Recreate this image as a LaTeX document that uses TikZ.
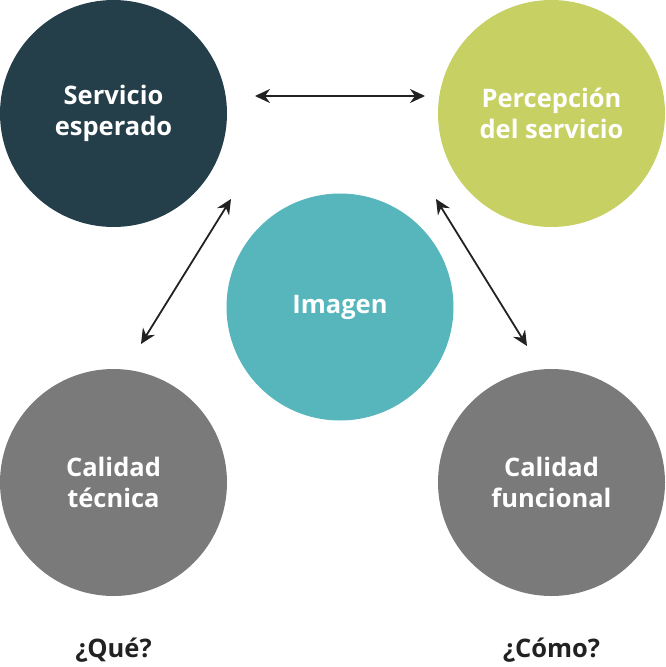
\documentclass[tikz,border=0pt]{standalone}
\usepackage{fontspec}
\setmainfont{Open Sans}
\usetikzlibrary{arrows.meta}
\definecolor{cdark}{HTML}{253F4A}
\definecolor{cgreen}{HTML}{C6D063}
\definecolor{cteal}{HTML}{56B6BC}
\definecolor{cgray}{HTML}{7A7A7A}
\definecolor{ctext}{HTML}{222222}
\tikzset{
  circ/.style={circle, minimum size=227pt, inner sep=0pt, draw=none, text=white,
    font=\bfseries\fontsize{25.5}{30.5}\selectfont, align=center},
  lbl/.style={text=ctext, font=\bfseries\fontsize{25.5}{30}\selectfont},
  arr/.style={line width=1.8pt, draw=ctext, {Stealth[length=15pt,width=14pt,inset=5pt]}-{Stealth[length=15pt,width=14pt,inset=5pt]}}
}
\begin{document}
\begin{tikzpicture}[x=1pt,y=-1pt]
\useasboundingbox (0,0) rectangle (665,667);
\node[circ, fill=cdark] (se) at (113.5,113.5) {Servicio\\esperado};
\node[circ, fill=cgreen] (ps) at (551.5,113.5) {Percepción\\del servicio};
\node[circ, fill=cteal] (im) at (340,307) {Imagen};
\node[circ, fill=cgray] (ct) at (113.5,482.5) {Calidad\\técnica};
\node[circ, fill=cgray] (cf) at (551.5,482.5) {Calidad\\funcional};
\node[lbl] (q1) at (113.5,650) {¿Qué?};
\node[lbl] (q2) at (551.5,650) {¿Cómo?};
\coordinate (h1) at (255,96);
\coordinate (h2) at (425,96);
\coordinate (l1) at (231,199);
\coordinate (l2) at (141,344);
\coordinate (r1) at (436,199);
\coordinate (r2) at (527,346);
\draw[arr] (h1) -- (h2);
\draw[arr] (l1) -- (l2);
\draw[arr] (r1) -- (r2);
\end{tikzpicture}
\end{document}
